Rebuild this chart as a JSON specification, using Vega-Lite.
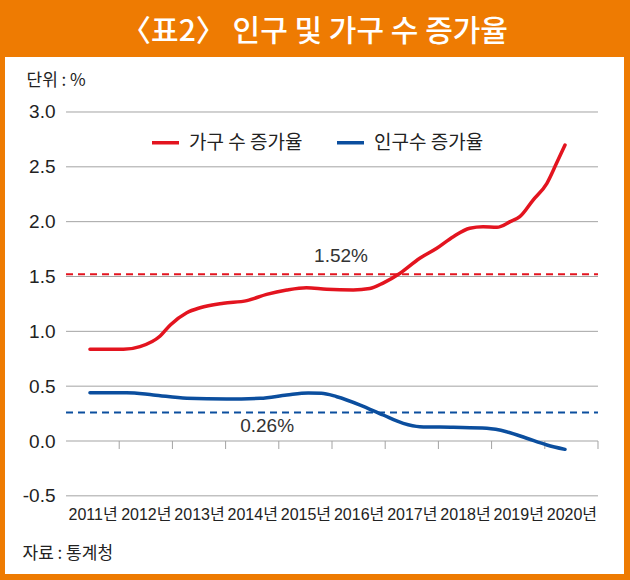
{
  "$schema": "https://vega.github.io/schema/vega-lite/v6.json",
  "width": 619,
  "height": 517,
  "autosize": {"type": "none"},
  "padding": {"left": 5, "top": 57, "right": 6, "bottom": 6},
  "background": "#EE7B02",
  "config": {
    "view": {"fill": "white", "stroke": null},
    "font": "Noto Sans CJK KR"
  },
  "title": {
    "text": "〈표2〉 인구 및 가구 수 증가율",
    "color": "white",
    "fontSize": 30,
    "font": "Noto Sans CJK KR",
    "fontWeight": 500,
    "anchor": "middle",
    "baseline": "alphabetic",
    "offset": 12,
    "dy": 26
  },
  "datasets": {
    "grid": [{"g": -0.5}, {"g": 0}, {"g": 0.5}, {"g": 1.0}, {"g": 1.5}, {"g": 2.0}, {"g": 2.5}, {"g": 3.0}],
    "ticks": [{"t": 2011.5}, {"t": 2012.5}, {"t": 2013.5}, {"t": 2014.5}, {"t": 2015.5}, {"t": 2016.5}, {"t": 2017.5}, {"t": 2018.5}, {"t": 2019.5}, {"t": 2020.5}],
    "avg": [
      {"series": "가구 수 증가율", "v": 1.52, "label": "1.52%"},
      {"series": "인구수 증가율", "v": 0.26, "label": "0.26%"}
    ],
    "rates": [
      {"series": "가구 수 증가율", "t": 2010.95, "v": 0.836},
      {"series": "가구 수 증가율", "t": 2011.58, "v": 0.836},
      {"series": "가구 수 증가율", "t": 2011.89, "v": 0.86},
      {"series": "가구 수 증가율", "t": 2012.27, "v": 0.957},
      {"series": "가구 수 증가율", "t": 2012.46, "v": 1.058},
      {"series": "가구 수 증가율", "t": 2012.77, "v": 1.17},
      {"series": "가구 수 증가율", "t": 2013.02, "v": 1.215},
      {"series": "가구 수 증가율", "t": 2013.46, "v": 1.256},
      {"series": "가구 수 증가율", "t": 2013.9, "v": 1.28},
      {"series": "가구 수 증가율", "t": 2014.27, "v": 1.337},
      {"series": "가구 수 증가율", "t": 2014.65, "v": 1.377},
      {"series": "가구 수 증가율", "t": 2015.02, "v": 1.398},
      {"series": "가구 수 증가율", "t": 2015.4, "v": 1.383},
      {"series": "가구 수 증가율", "t": 2015.9, "v": 1.377},
      {"series": "가구 수 증가율", "t": 2016.21, "v": 1.39},
      {"series": "가구 수 증가율", "t": 2016.46, "v": 1.44},
      {"series": "가구 수 증가율", "t": 2016.78, "v": 1.53},
      {"series": "가구 수 증가율", "t": 2017.15, "v": 1.666},
      {"series": "가구 수 증가율", "t": 2017.47, "v": 1.757},
      {"series": "가구 수 증가율", "t": 2017.78, "v": 1.863},
      {"series": "가구 수 증가율", "t": 2018.09, "v": 1.94},
      {"series": "가구 수 증가율", "t": 2018.34, "v": 1.954},
      {"series": "가구 수 증가율", "t": 2018.6, "v": 1.949},
      {"series": "가구 수 증가율", "t": 2018.85, "v": 2.0},
      {"series": "가구 수 증가율", "t": 2019.03, "v": 2.045},
      {"series": "가구 수 증가율", "t": 2019.28, "v": 2.197},
      {"series": "가구 수 증가율", "t": 2019.54, "v": 2.35},
      {"series": "가구 수 증가율", "t": 2019.72, "v": 2.532},
      {"series": "가구 수 증가율", "t": 2019.88, "v": 2.699},
      {"series": "인구수 증가율", "t": 2010.95, "v": 0.44},
      {"series": "인구수 증가율", "t": 2011.64, "v": 0.44},
      {"series": "인구수 증가율", "t": 2012.14, "v": 0.42},
      {"series": "인구수 증가율", "t": 2012.77, "v": 0.39},
      {"series": "인구수 증가율", "t": 2013.52, "v": 0.383},
      {"series": "인구수 증가율", "t": 2014.15, "v": 0.389},
      {"series": "인구수 증가율", "t": 2014.65, "v": 0.419},
      {"series": "인구수 증가율", "t": 2015.05, "v": 0.437},
      {"series": "인구수 증가율", "t": 2015.3, "v": 0.436},
      {"series": "인구수 증가율", "t": 2015.59, "v": 0.404},
      {"series": "인구수 증가율", "t": 2016.03, "v": 0.328},
      {"series": "인구수 증가율", "t": 2016.46, "v": 0.237},
      {"series": "인구수 증가율", "t": 2016.84, "v": 0.161},
      {"series": "인구수 증가율", "t": 2017.15, "v": 0.131},
      {"series": "인구수 증가율", "t": 2017.78, "v": 0.125},
      {"series": "인구수 증가율", "t": 2018.41, "v": 0.116},
      {"series": "인구수 증가율", "t": 2018.78, "v": 0.085},
      {"series": "인구수 증가율", "t": 2019.16, "v": 0.025},
      {"series": "인구수 증가율", "t": 2019.54, "v": -0.036},
      {"series": "인구수 증가율", "t": 2019.88, "v": -0.076}
    ]
  },
  "layer": [
    {
      "data": {"name": "grid"},
      "mark": {"type": "rule", "color": "#A3A3A3", "strokeWidth": 1},
      "encoding": {
        "x": {
          "datum": 2010.5, "type": "quantitative",
          "scale": {"domain": [2009.353, 2020.989], "nice": false, "zero": false},
          "axis": {
            "orient": "bottom", "offset": -73, "values": [2011, 2012, 2013, 2014, 2015, 2016, 2017, 2018, 2019, 2020],
            "labelExpr": "datum.value + '년'", "ticks": false, "domain": false, "grid": false,
            "labelFont": "Liberation Sans, Noto Sans CJK KR", "labelFontSize": 16, "labelColor": "#222222", "labelPadding": 5, "labelDx": 8, "labelFlush": false, "labelOverlap": false,
            "title": "자료 : 통계청", "titleFont": "Noto Sans CJK KR", "titleFontSize": 17, "titleFontWeight": "normal", "titleColor": "#222222",
            "titleAngle": 0, "titleAlign": "left", "titleBaseline": "middle", "titleX": 17, "titleY": 52
          }
        },
        "x2": {"datum": 2020.5},
        "y": {
          "field": "g", "type": "quantitative",
          "scale": {"domain": [-1.2127, 3.5014], "nice": false, "zero": false},
          "axis": {
            "orient": "left", "offset": -56, "values": [-0.5, 0, 0.5, 1.0, 1.5, 2.0, 2.5, 3.0],
            "labelExpr": "replace(format(datum.value, '.1f'), '−', '-')",
            "ticks": false, "domain": false, "grid": false,
            "labelFont": "Liberation Sans", "labelFontSize": 19, "labelColor": "#222222", "labelPadding": 6,
            "title": "단위 : %", "titleFont": "Noto Sans CJK KR", "titleFontSize": 17, "titleFontWeight": "normal", "titleColor": "#222222",
            "titleAngle": 0, "titleAlign": "left", "titleBaseline": "middle", "titleX": -35, "titleY": 23
          }
        }
      }
    },
    {
      "data": {"name": "ticks"},
      "mark": {"type": "rule", "color": "#A3A3A3", "strokeWidth": 1},
      "encoding": {
        "x": {"field": "t", "type": "quantitative"},
        "y": {"datum": 0, "type": "quantitative"},
        "y2": {"datum": -0.073}
      }
    },
    {
      "data": {"name": "avg"},
      "mark": {"type": "rule", "strokeWidth": 2, "strokeDash": [7, 5]},
      "encoding": {
        "x": {"datum": 2010.5, "type": "quantitative"},
        "x2": {"datum": 2020.5},
        "y": {"field": "v", "type": "quantitative"},
        "color": {
          "field": "series", "type": "nominal",
          "scale": {"domain": ["가구 수 증가율", "인구수 증가율"], "range": ["#E3141F", "#0B4E9E"]},
          "legend": {
            "orient": "none", "legendX": 145, "legendY": 70, "direction": "horizontal", "title": null,
            "symbolType": "stroke", "symbolStrokeWidth": 3.5, "symbolSize": 729, "symbolDash": [1, 0], "labelFont": "Noto Sans CJK KR",
            "labelFontSize": 19, "labelColor": "#222222", "labelOffset": 8, "columnPadding": 27, "padding": 0, "labelLimit": 300
          }
        }
      }
    },
    {
      "data": {"name": "avg"},
      "transform": [{"filter": "datum.v > 1"}],
      "mark": {"type": "text", "font": "Liberation Sans", "fontSize": 19, "color": "#333333", "dy": -18, "baseline": "middle"},
      "encoding": {
        "x": {"datum": 2015.67, "type": "quantitative"},
        "y": {"field": "v", "type": "quantitative"},
        "text": {"field": "label"}
      }
    },
    {
      "data": {"name": "avg"},
      "transform": [{"filter": "datum.v < 1"}],
      "mark": {"type": "text", "font": "Liberation Sans", "fontSize": 19, "color": "#333333", "dy": 14, "baseline": "middle"},
      "encoding": {
        "x": {"datum": 2014.28, "type": "quantitative"},
        "y": {"field": "v", "type": "quantitative"},
        "text": {"field": "label"}
      }
    },
    {
      "data": {"name": "rates"},
      "mark": {"type": "line", "strokeWidth": 3.5, "interpolate": "monotone", "strokeCap": "round"},
      "encoding": {
        "x": {"field": "t", "type": "quantitative"},
        "y": {"field": "v", "type": "quantitative"},
        "color": {"field": "series", "type": "nominal"}
      }
    }
  ]
}
